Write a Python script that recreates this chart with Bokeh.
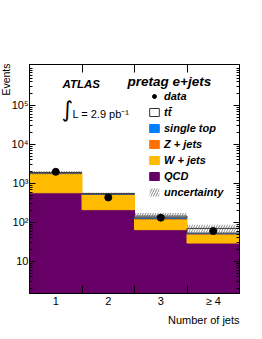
import numpy as np
from bokeh.plotting import figure
from bokeh.models import (Range1d, FixedTicker, LogAxis, LinearAxis, Label,
                          Legend, LegendItem, Title)
from bokeh.embed import file_html
from bokeh.resources import INLINE

# ---------------- data ----------------
jets = [1, 2, 3, 4]
jet_labels = ["1", "2", "3", "≥ 4"]
qcd = [575, 212, 65, 29.5]
wjets = [1255, 308, 57, 19.5]
zjets = [40, 13, 5, 2]
single_top = [8, 4, 4, 2]
ttbar = [5, 6, 14, 17]
data = [1980, 437, 132, 60]
uncert = [190, 40, 28, 17]
y_ticks = [10, 100, 1000, 10000, 100000]
y_tick_labels = ["10", "10²", "10³", "10⁴", "10⁵"]

FONT = "Liberation Sans"
c_qcd = "#660066"
c_w = "#ffbb00"
c_z = "#ff7000"
c_st = "#0080ff"

p = figure(width=262, height=339, output_backend="svg", toolbar_location=None,
           y_axis_type="log", x_range=Range1d(0.5, 4.5), y_range=Range1d(1.5, 1.12e6),
           min_border_left=29, min_border_right=23, min_border_top=64, min_border_bottom=46)
p.background_fill_color = "white"
p.border_fill_color = "white"
p.outline_line_color = "black"
p.outline_line_width = 1
p.xgrid.grid_line_color = None
p.ygrid.grid_line_color = None

left = [j - 0.5 for j in jets]
right = [j + 0.5 for j in jets]
edges = [j + 0.5 for j in jets[:-1]]
floor = 1e-3

layers = [
    ("QCD", qcd, c_qcd, c_qcd),
    ("W + jets", wjets, c_w, c_w),
    ("Z + jets", zjets, c_z, c_z),
    ("single top", single_top, c_st, c_st),
    ("tt\u0304", ttbar, "white", "#333333"),
]
cum = np.zeros(len(jets))
rends = {}
for name, vals, fc, lc in layers:
    top = cum + np.array(vals, dtype=float)
    r = p.quad(left=left, right=right, bottom=np.maximum(cum, floor), top=top,
               fill_color=fc, line_color=lc, line_width=1)
    rends[name] = r
    cum = top
total = cum
unc = np.array(uncert, dtype=float)
r_unc = p.quad(left=left, right=right, bottom=total - unc, top=total + unc,
               fill_color=None, line_color=None, hatch_pattern="/",
               hatch_color="#555555", hatch_scale=5, hatch_weight=0.7)
r_data = p.scatter(jets, data, size=7, color="black")

# ---------------- axes ----------------
minor_y = [k * 10 ** d for d in range(0, 6) for k in range(2, 10)]
yt = FixedTicker(ticks=y_ticks, minor_ticks=minor_y)
ya = p.yaxis[0]
ya.ticker = yt
ya.major_label_overrides = dict(zip(y_ticks, y_tick_labels))
ya.major_tick_in = 6
ya.major_tick_out = 0
ya.minor_tick_in = 3
ya.minor_tick_out = 0
ya.major_label_standoff = 1
ya.major_label_text_font = FONT
ya.major_label_text_font_size = "11px"
ya.major_label_text_color = "black"
ya.axis_line_color = "black"
ya.major_tick_line_color = "black"
ya.minor_tick_line_color = "black"

ra = LogAxis(ticker=FixedTicker(ticks=y_ticks, minor_ticks=minor_y),
             major_label_text_font_size="1px", major_label_text_alpha=0,
             major_tick_in=6, major_tick_out=0,
             minor_tick_in=3, minor_tick_out=0, axis_line_color="black",
             major_label_standoff=0)
p.add_layout(ra, "right")

xa = p.xaxis[0]
xa.ticker = FixedTicker(ticks=jets, minor_ticks=edges)
xa.major_label_overrides = dict(zip(jets, jet_labels))
xa.major_tick_in = 0
xa.major_tick_out = 0
xa.minor_tick_in = 8
xa.minor_tick_out = 0
xa.major_label_standoff = 1
xa.major_label_text_font = FONT
xa.major_label_text_font_size = "11px"
xa.major_label_text_color = "black"
xa.axis_line_color = "black"
xa.minor_tick_line_color = "black"

ta = LinearAxis(ticker=FixedTicker(ticks=edges), major_label_text_font_size="1px",
                major_label_text_alpha=0,
                major_tick_in=8, major_tick_out=0, minor_tick_line_color=None,
                axis_line_color="black", major_label_standoff=0)
p.add_layout(ta, "above")

# axis titles
p.add_layout(Title(text="Number of jets", align="right", text_font=FONT,
                   text_font_size="11px", text_font_style="normal",
                   text_color="black", standoff=5, offset=0), "below")
p.add_layout(Title(text="Events", align="right", text_font=FONT,
                   text_font_size="10.5px", text_font_style="normal",
                   text_color="black", standoff=-6, offset=-1), "left")

# ---------------- legend ----------------
items = [
    LegendItem(label="data", renderers=[r_data]),
    LegendItem(label="tt\u0304", renderers=[rends["tt\u0304"]]),
    LegendItem(label="single top", renderers=[rends["single top"]]),
    LegendItem(label="Z + jets", renderers=[rends["Z + jets"]]),
    LegendItem(label="W + jets", renderers=[rends["W + jets"]]),
    LegendItem(label="QCD", renderers=[rends["QCD"]]),
    LegendItem(label="uncertainty", renderers=[r_unc]),
]
leg = Legend(items=items, location=(119, 95.5), glyph_width=12, glyph_height=10,
             label_height=10, spacing=4, label_standoff=4, padding=0, margin=0,
             border_line_alpha=0, background_fill_alpha=0,
             label_text_font=FONT, label_text_font_style="bold italic",
             label_text_font_size="11px", label_text_color="black")
p.add_layout(leg)

# ---------------- texts ----------------
def lab(text, x, y, size, style="normal", align="left", baseline="alphabetic", font=FONT):
    p.add_layout(Label(x=x, y=y, x_units="screen", y_units="screen", text=text,
                       text_font=font, text_font_size=size, text_font_style=style,
                       text_align=align, text_baseline=baseline,
                       text_color="black"))

lab("ATLAS", 33, 210, "11.5px", style="bold italic")
lab("∫", 32, 184, "22px", baseline="middle", font="DejaVu Sans")
lab("L = 2.9 pb⁻¹", 43, 180, "11px")
lab("pretag e+jets", 98, 212, "13.5px", style="bold italic")

open("out.html", "w").write(file_html(p, INLINE))
